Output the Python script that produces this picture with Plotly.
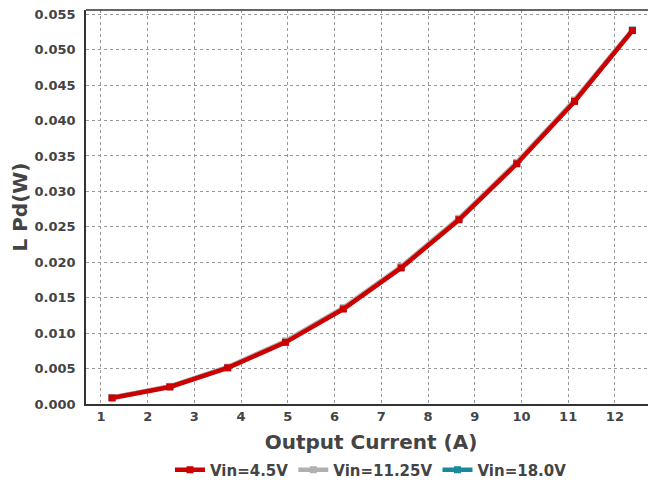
import plotly.graph_objects as go

current = [1.2375, 2.475, 3.7125, 4.95, 6.1875, 7.425, 8.6625, 9.9, 11.1375, 12.375]
pd_45 = [0.00085, 0.0024, 0.0051, 0.0087, 0.0134, 0.0192, 0.0260, 0.0339, 0.0427, 0.0527]
pd_1125 = [0.00092, 0.0025, 0.0052, 0.0089, 0.0136, 0.0194, 0.0262, 0.0341, 0.0429, 0.0528]
pd_18 = [0.00090, 0.00245, 0.00515, 0.0088, 0.0135, 0.0193, 0.0261, 0.0340, 0.0428, 0.05275]
y_ticks = [0, 0.005, 0.01, 0.015, 0.02, 0.025, 0.03, 0.035, 0.04, 0.045, 0.05, 0.055]
x_ticks = list(range(1, 13))

series = [
    ("Vin=18.0V", pd_18, "#1a8a9a", 3),
    ("Vin=11.25V", pd_1125, "#b0b0b0", 2),
    ("Vin=4.5V", pd_45, "#cc0000", 1),
]

fig = go.Figure()
for name, vals, color, rank in series:
    fig.add_trace(go.Scatter(
        x=current, y=vals, name=name, mode="lines+markers",
        line=dict(color=color, width=4.5),
        marker=dict(symbol="square", size=7, color=color),
        legendrank=rank,
    ))

font_family = "DejaVu Sans"
# the page body adds an 8px offset, so the figure is 8px smaller on each axis
fig.update_layout(
    width=648, height=476,
    margin=dict(l=78, r=0, t=2, b=80, autoexpand=False),
    plot_bgcolor="white", paper_bgcolor="white",
    font=dict(family=font_family, color="#444444"),
    showlegend=True,
    legend=dict(orientation="h", x=0.5, xanchor="center", y=-0.1675, yanchor="middle",
                font=dict(size=15, family=font_family, weight="bold", color="#444444"),
                itemwidth=30, tracegroupgap=0),
    xaxis=dict(
        range=[0.68, 12.88], tickvals=x_ticks, ticktext=[str(t) for t in x_ticks],
        showgrid=True, gridcolor="#999999", griddash="dot", gridwidth=1,
        showline=True, linecolor="#333333", linewidth=1.5, mirror=False,
        ticks="", zeroline=False, automargin=False,
        tickfont=dict(size=13, family=font_family, weight="bold", color="#444444"),
        title=dict(text="Output Current (A)", standoff=12,
                   font=dict(size=20, family=font_family, weight="bold", color="#444444")),
    ),
    yaxis=dict(
        range=[0, 0.0556], tickvals=y_ticks, ticktext=[f"{v:.3f}" for v in y_ticks],
        showgrid=True, gridcolor="#999999", griddash="dot", gridwidth=1,
        showline=True, linecolor="#333333", linewidth=1.5, mirror=False,
        ticks="", zeroline=False, automargin=False, ticklabelstandoff=6,
        ticklabeloverflow="allow",
        tickfont=dict(size=13, family=font_family, weight="bold", color="#444444"),
        title=dict(text="L Pd(W)", standoff=13,
                   font=dict(size=20, family=font_family, weight="bold", color="#444444")),
    ),
    shapes=[dict(type="line", xref="paper", yref="paper", x0=0, x1=1, y0=1, y1=1,
                 line=dict(color="#333333", width=1.5))],
)

fig.write_html("out.html")
